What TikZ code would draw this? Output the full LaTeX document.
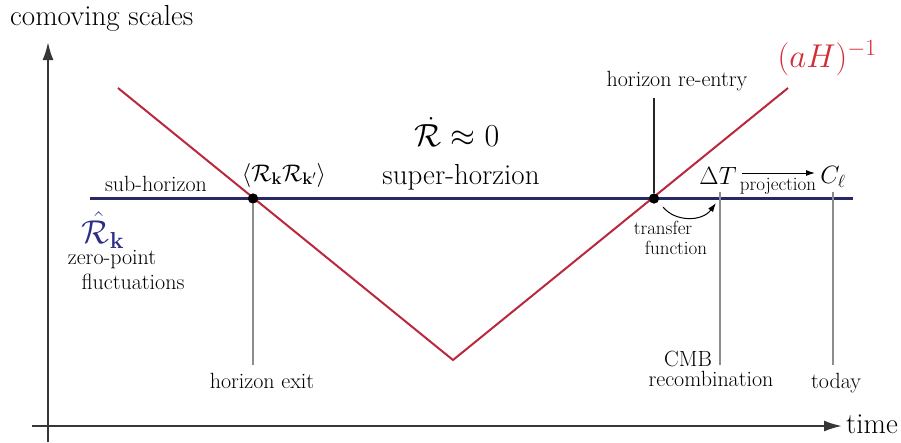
\RequirePackage{fix-cm}
\documentclass[tikz,border=0pt]{standalone}
\usepackage{amsmath}
\usetikzlibrary{arrows.meta}
\definecolor{redline}{RGB}{185,40,60}
\definecolor{redlabel}{RGB}{210,45,55}
\definecolor{navy}{RGB}{40,40,100}
\definecolor{rkblue}{RGB}{45,45,135}
\definecolor{axisgray}{RGB}{55,55,55}
\definecolor{markgray}{RGB}{140,140,140}
\tikzset{
  fsA/.style={inner sep=0pt, font=\fontsize{29}{32}\selectfont},
  fsB/.style={inner sep=0pt, font=\fontsize{22}{25}\selectfont},
  fsC/.style={inner sep=0pt, font=\fontsize{19}{22}\selectfont},
  axisline/.style={draw=axisgray, line width=2pt, -{Latex[length=18pt,width=11pt]}},
  hubline/.style={draw=navy, line width=3.8pt},
  hrline/.style={draw=redline, line width=2pt},
  tickline/.style={draw=markgray, line width=1.5pt},
  darktick/.style={draw=black!85, line width=1.2pt},
  dotnode/.style={circle, fill=black, inner sep=0pt, minimum size=10pt},
}
\begin{document}
\begin{tikzpicture}[x=1pt,y=-1pt]
\useasboundingbox (0,0) rectangle (901,442);
% axes
\coordinate (yb) at (48,442);
\coordinate (yt) at (48,42);
\coordinate (xl) at (32,426);
\coordinate (xr) at (842,426);
\draw[axisline] (yb) -- (yt);
\draw[axisline] (xl) -- (xr);
\node[fsA, anchor=west] (ylab) at (10,18) {comoving scales};
\node[fsA, anchor=west] (xlab) at (846,424) {time};

% horizon line
\coordinate (bl) at (90,198.5);
\coordinate (br) at (853,198.5);
\draw[hubline] (bl) -- (br);

% Hubble radius
\coordinate (rl) at (118,88);
\coordinate (vb) at (453,360);
\coordinate (rr) at (788,88);
\draw[hrline] (rl) -- (vb) -- (rr);

% vertical markers
\coordinate (exb) at (253,365);
\coordinate (ret) at (654,98);
\coordinate (cmbt) at (720,192);
\coordinate (cmbb) at (720,365);
\coordinate (todt) at (833,192);
\coordinate (todb) at (833,365);
\node[dotnode] (ex) at (253,198.5) {};
\node[dotnode] (re) at (654,198.5) {};
\draw[tickline] (ex) -- (exb);
\draw[darktick] (re) -- (ret);
\draw[tickline] (cmbt) -- (cmbb);
\draw[tickline] (todt) -- (todb);
\node[dotnode] at (ex) {};
\node[dotnode] at (re) {};

% labels
\node[fsB] (subh) at (156,184) {sub-horizon};
\node[inner sep=0pt, font=\fontsize{24}{28}\selectfont] (corr) at (284,175) {$\langle\mathcal{R}_{\mathbf{k}}\mathcal{R}_{\mathbf{k}'}\rangle$};
\node[inner sep=0pt, text=rkblue, font=\fontsize{33}{38}\selectfont] (rk) at (103,230) {$\hat{\mathcal{R}}_{\mathbf{k}}$};
\node[fsB] (zp) at (112,260) {zero-point};
\node[fsB] (fl) at (133,282) {fluctuations};
\node[inner sep=0pt, font=\fontsize{32}{36}\selectfont] (rdot) at (457,132) {$\dot{\mathcal{R}}\approx 0$};
\node[fsA] (super) at (461,177) {super-horzion};
\node[inner sep=0pt, text=redlabel, font=\fontsize{33}{38}\selectfont] (ah) at (827,58) {$(aH)^{-1}$};
\node[fsB] (rel) at (677,81) {horizon re-entry};
\node[fsB] (exl) at (262,381) {horizon exit};
\node[fsB] (cmb) at (688,359) {CMB};
\node[fsB] (rec) at (711,379) {recombination};
\node[fsB] (tod) at (836,383) {today};
\node[inner sep=0pt, font=\fontsize{25}{29}\selectfont] (dT) at (718,176) {$\Delta T$};
\node[inner sep=0pt, font=\fontsize{25}{29}\selectfont] (Cl) at (833,177) {$C_\ell$};
\node[fsC] (proj) at (778,186) {projection};
\coordinate (pa) at (742,173);
\coordinate (pb) at (815,173);
\draw[line width=1pt, -{Latex[length=9pt,width=6pt]}] (pa) -- (pb);
\coordinate (ta) at (663,207);
\coordinate (tb) at (716,203);
\draw[line width=1pt, -{Latex[length=9pt,width=6pt]}] (ta) .. controls (675,222) and (702,222) .. (tb);
\node[fsC] (tr) at (663,228) {transfer};
\node[fsC] (fn) at (676,248) {function};
\end{tikzpicture}
\end{document}
